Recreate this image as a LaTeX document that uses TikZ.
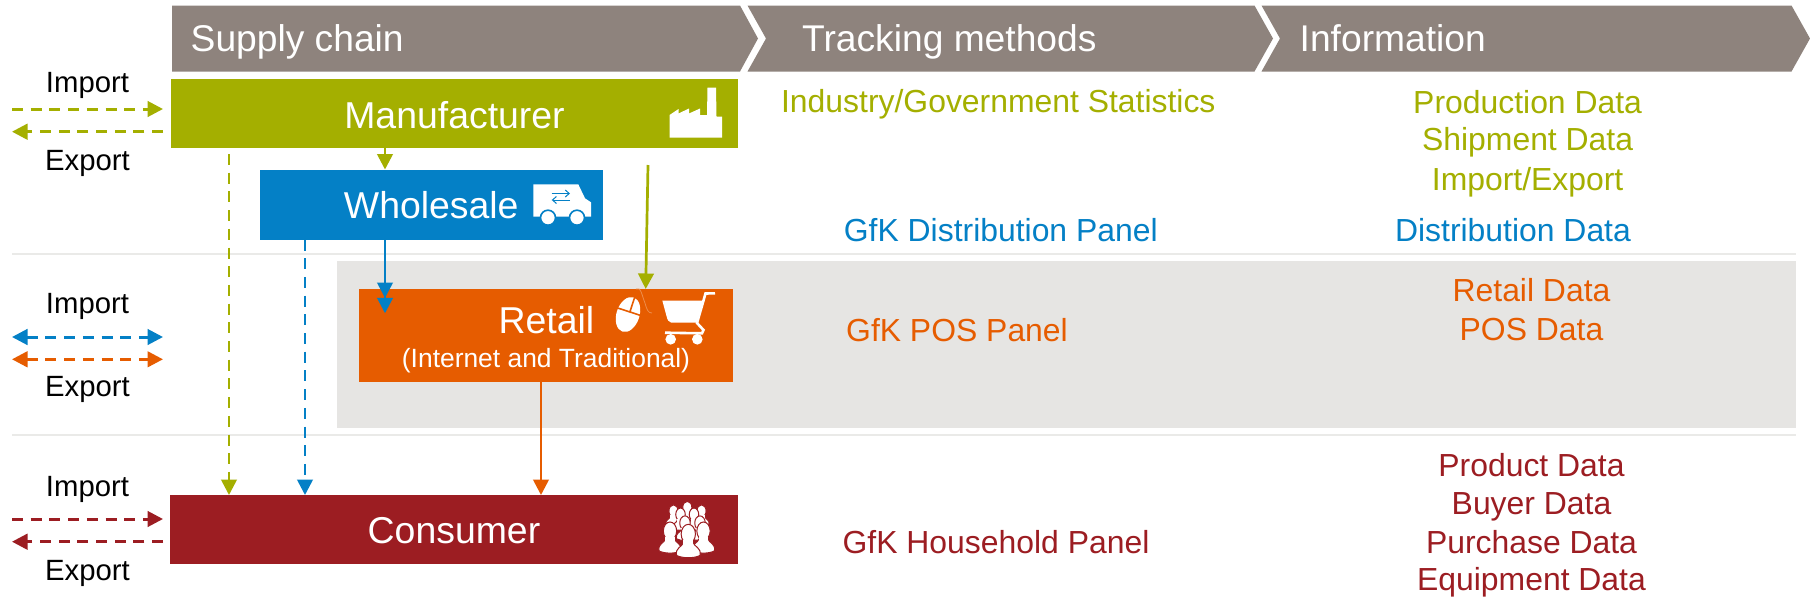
\documentclass[tikz,border=0pt]{standalone}
\usepackage{fontspec}
\setmainfont{Liberation Sans}
\usetikzlibrary{arrows.meta,calc}
\definecolor{cgreen}{HTML}{A4AF00}
\definecolor{cblue}{HTML}{0480C6}
\definecolor{corange}{HTML}{E65C00}
\definecolor{cred}{HTML}{9C1D22}
\definecolor{cgrey}{HTML}{8E837D}
\definecolor{clight}{HTML}{E6E5E3}
\definecolor{cline}{HTML}{EAEAE8}
\newcommand{\fs}[1]{\fontsize{#1pt}{#1pt}\selectfont}
\newcommand{\personicon}[3]{%
  \begin{scope}[shift={(#1,#2)},scale=#3]
    \fill[white,draw=cred,line width=1pt] (-11.5,21) .. controls (-13,13) and (-6,13) .. (-4.5,8) -- (4.5,8) .. controls (6,13) and (13,13) .. (11.5,21) .. controls (6,24) and (-6,24) .. (-11.5,21) -- cycle;
    \fill[white,draw=cred,line width=1pt] (0,0) ellipse (7 and 9.5);
    \fill[white] (-5,6) rectangle (5,13);
  \end{scope}}
\tikzset{
  x=1pt,y=-1pt,
  boxnode/.style={anchor=north west,inner sep=0pt,outer sep=0pt,text=white,font=\fs{37.4},align=center,text depth=0pt,text height=27.6pt},
  headpart/.style={fill=cgrey,draw=none},
  headtext/.style={anchor=base west,inner sep=0pt,text=white,font=\fs{37.2}},
  sidetext/.style={anchor=base,inner sep=0pt,font=\fs{29.3},text=black},
  coltext/.style={anchor=base,inner sep=0pt,font=\fs{31.9}},
  innertext/.style={anchor=base,inner sep=0pt,text=white},
  conn/.style={line width=2.7pt,-{Triangle[length=15.5pt,width=15.5pt]}},
  dconn/.style={conn,dash pattern=on 11pt off 7.7pt},
  hdash/.style={dconn,line width=3pt},
  ddouble/.style={line width=3pt,{Triangle[length=15.5pt,width=15.5pt]}-{Triangle[length=15.5pt,width=15.5pt]},dash pattern=on 11pt off 7.7pt},
  sepline/.style={cline,line width=2pt},
}
\begin{document}
\begin{tikzpicture}
\useasboundingbox (0,0) rectangle (1810,614);
\fill[white] (0,0) rectangle (1810,614);
% separators and shaded band
\fill[clight] (337,261) rectangle (1796,428);
\draw[sepline] (12,254) -- (1796,254);
\draw[sepline] (12,435) -- (1796,435);
% header chevrons
\fill[headpart] (172,5.5) -- (740,5.5) -- (758,38.5) -- (740,71.5) -- (172,71.5) -- cycle;
\fill[headpart] (747.5,5.5) -- (1254.5,5.5) -- (1273,38.5) -- (1254.5,71.5) -- (747.5,71.5) -- (766,38.5) -- cycle;
\fill[headpart] (1261.5,5.5) -- (1791.5,5.5) -- (1810,38.5) -- (1791.5,71.5) -- (1261.5,71.5) -- (1280,38.5) -- cycle;
\node[headtext] (h1) at (190.5,51.7) {Supply chain};
\node[headtext] (h2) at (802,51.7) {Tracking methods};
\node[headtext] (h3) at (1299.5,51.7) {Information};
% boxes
\node[boxnode,fill=cgreen,minimum width=567pt,minimum height=69pt,text height=29pt] (mfr) at (171,79) {Manufacturer};
\node[boxnode,fill=cblue,minimum width=342.5pt,minimum height=70pt] (whs) at (260,169.5) {Wholesale};
\node[boxnode,fill=corange,minimum width=374pt,minimum height=93pt] (ret) at (359,289) {};
\node[innertext,font=\fs{37.4}] (ret1) at (546.5,333.3) {Retail};
\node[innertext,font=\fs{26.4}] (ret2) at (546,367.3) {(Internet and Traditional)};
\node[boxnode,fill=cred,minimum width=568pt,minimum height=69pt] (con) at (170,495) {Consumer};
% connector x positions and free ends
\coordinate (xg) at (229,0);
\coordinate (xb) at (305,0);
\coordinate (xm) at (385,0);
\coordinate (xo) at (541,0);
\coordinate (gd) at (229,154);
\coordinate (gs) at (648,165);
\coordinate (ge) at (645.7,289);
\coordinate (bend) at (385,313.3);
\coordinate (btip) at (385,298);
\draw[dconn,cgreen] (gd) -- (con.north -| xg);
\draw[dconn,cblue] (whs.south -| xb) -- (con.north -| xb);
\draw[conn,cgreen] (mfr.south -| xm) -- (whs.north -| xm);
\draw[conn,cblue] (whs.south -| xm) -- (bend);
\draw[conn,cblue] (whs.south -| xm) -- (btip);
\draw[conn,cgreen] (gs) -- (ge);
\draw[conn,corange] (ret.south -| xo) -- (con.north -| xo);
% side arrows
\coordinate (l1) at (12,109); \coordinate (r1) at (163,109);
\coordinate (l2) at (12,131.7); \coordinate (r2) at (163,131.7);
\coordinate (l3) at (12,337); \coordinate (r3) at (163,337);
\coordinate (l4) at (12,359.3); \coordinate (r4) at (163,359.3);
\coordinate (l5) at (12,519); \coordinate (r5) at (163,519);
\coordinate (l6) at (12,541.7); \coordinate (r6) at (163,541.7);
\draw[hdash,cgreen] (l1) -- (r1);
\draw[hdash,cgreen] (r2) -- (l2);
\draw[ddouble,cblue] (l3) -- (r3);
\draw[ddouble,corange] (l4) -- (r4);
\draw[hdash,cred] (l5) -- (r5);
\draw[hdash,cred] (r6) -- (l6);
% side labels
\node[sidetext] (i1) at (87.5,92.7) {Import};
\node[sidetext] (e1) at (87.5,170) {Export};
\node[sidetext] (i2) at (87.5,313.3) {Import};
\node[sidetext] (e2) at (87.5,396.7) {Export};
\node[sidetext] (i3) at (87.5,496) {Import};
\node[sidetext] (e3) at (87.5,580) {Export};
% tracking methods
\node[coltext,text=cgreen] (t1) at (998.3,112.7) {Industry/Government Statistics};
\node[coltext,text=cblue] (t2) at (1000.8,241.7) {GfK Distribution Panel};
\node[coltext,text=corange] (t3) at (957,341) {GfK POS Panel};
\node[coltext,text=cred] (t4) at (996,553) {GfK Household Panel};
% information
\node[coltext,text=cgreen] (d1) at (1527.6,113.3) {Production Data};
\node[coltext,text=cgreen] (d2) at (1527.6,150.7) {Shipment Data};
\node[coltext,text=cgreen] (d3) at (1527.6,190) {Import/Export};
\node[coltext,text=cblue] (d4) at (1513,241.7) {Distribution Data};
\node[coltext,text=corange] (d5) at (1531.5,301.7) {Retail Data};
\node[coltext,text=corange] (d6) at (1531.5,340.7) {POS Data};
\node[coltext,text=cred] (d7) at (1531.5,476) {Product Data};
\node[coltext,text=cred] (d8) at (1531.5,514.3) {Buyer Data};
\node[coltext,text=cred] (d9) at (1531.5,553.3) {Purchase Data};
\node[coltext,text=cred] (d10) at (1531.5,590.7) {Equipment Data};
% factory icon
\fill[white] (669.5,137.5) -- (669.5,115) -- (678.5,109) -- (678.5,113.5) -- (689,108.5) -- (689,113.5) -- (700,108.5) -- (700,115) -- (707,115) -- (707.5,87.5) -- (716,87.5) -- (716.5,116.5) -- (722,116.5) -- (722,137.5) -- cycle;
% van icon
\fill[white] (533.3,184.3) -- (578.3,184.3) -- (585,198.3) -- (591,202.3) -- (591,216.7) -- (533.3,216.7) -- cycle;
\fill[white,draw=cblue,line width=1.6pt] (548,217.7) circle (7.5);
\fill[white,draw=cblue,line width=1.6pt] (577,217.7) circle (7.5);
\draw[cblue,line width=1pt,-{Straight Barb[length=4pt,width=7pt]}] (551.7,193.5) -- (570,193.5);
\draw[cblue,line width=1pt,-{Straight Barb[length=4pt,width=7pt]}] (570,200) -- (551.7,200);
% mouse icon
\draw[corange!70!white,line width=0.8pt] (636,289) .. controls (641,286) and (642,296) .. (645,303) .. controls (647,310) and (648,313) .. (652,313);
\begin{scope}[shift={(628,314.5)},rotate=-18]
  \fill[white] (0,0) ellipse (11.5 and 18);
  \draw[corange,line width=1.6pt] (-12,-3) -- (12,-3) (1,-3) -- (1,-19);
\end{scope}
% cart icon
\fill[white] (662.3,300.5) -- (704.5,300.5) -- (697,322.5) -- (671,322.5) .. controls (668.5,322) and (667.5,320) .. (666.5,316) -- cycle;
\draw[white,line width=2.6pt] (715,293.3) -- (705.5,293.5) -- (697,323) -- (703.5,330) -- (702,333.3) -- (665,332.7);
\fill[white] (670.7,339.3) circle (5.3) (697.3,339.3) circle (5.3);
% people icon
\personicon{673.5}{511}{0.65}
\personicon{687.3}{507.5}{0.65}
\personicon{701.5}{511}{0.65}
\personicon{680.5}{514.5}{0.68}
\personicon{694}{514.5}{0.68}
\personicon{685}{523}{0.75}
\personicon{700}{523}{0.75}
\personicon{670}{531}{0.95}
\personicon{703.5}{531}{0.95}
\personicon{688.3}{534}{1.02}
\end{tikzpicture}
\end{document}
